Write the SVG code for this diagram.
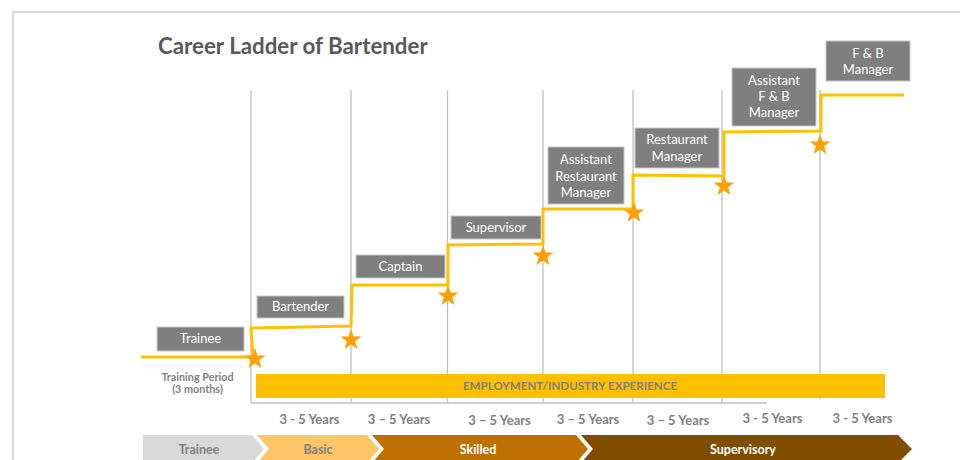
<svg xmlns="http://www.w3.org/2000/svg" width="960" height="460" viewBox="0 0 960 460">
  <style>
    .title { font-family: Lato, "Liberation Sans", sans-serif; font-weight: bold; font-size: 22.3px; fill: #595959; }
    .box { fill: #7f7f7f; stroke: #c8c8c8; stroke-width: 1; }
    .boxtxt { font-family: Lato, "Liberation Sans", sans-serif; font-size: 13px; fill: #ffffff; text-anchor: middle; }
    .grid { stroke: #bfbfbf; stroke-width: 1.3; fill: none; }
    .ladder { stroke: #ffc000; stroke-width: 3; fill: none; stroke-linejoin: miter; }
    .star { fill: #ffa000; }
    .gray { font-family: Lato, "Liberation Sans", sans-serif; font-weight: bold; fill: #7f7f7f; text-anchor: middle; }
    .years { font-size: 13px; }
    .small { font-size: 10.8px; }
    .band { font-family: Lato, "Liberation Sans", sans-serif; font-weight: bold; font-size: 12.5px; text-anchor: middle; }
  </style>
  <defs>
    <path id="star" class="star" d="M0,-11 L2.59,-3.56 L10.46,-3.4 L4.18,1.36 L6.47,8.9 L0,4.4 L-6.47,8.9 L-4.18,1.36 L-10.46,-3.4 L-2.59,-3.56 Z"/>
  </defs>
  <rect x="0" y="0" width="960" height="460" fill="#ffffff"/>
  <rect x="13" y="12" width="970" height="470" fill="#ffffff" stroke="#dadada" stroke-width="2.5"/>

  <text class="title" x="158" y="54">Career Ladder of Bartender</text>

  <g id="grid">
    <line class="grid" x1="251" y1="91" x2="251" y2="403"/>
    <line class="grid" x1="351" y1="90" x2="351" y2="403"/>
    <line class="grid" x1="447.5" y1="90" x2="447.5" y2="403"/>
    <line class="grid" x1="543" y1="90" x2="543" y2="403"/>
    <line class="grid" x1="633" y1="90" x2="633" y2="403"/>
    <line class="grid" x1="722" y1="90" x2="722" y2="403"/>
    <line class="grid" x1="820" y1="90" x2="820" y2="399"/>
    <line class="grid" x1="251" y1="403" x2="767" y2="403"/>
  </g>

  <g id="experience-bar">
    <rect x="256" y="374" width="629" height="24" fill="#ffc000"/>
    <text class="gray" x="570" y="390" font-size="11.6">EMPLOYMENT/INDUSTRY EXPERIENCE</text>
  </g>

  <g id="training-period">
    <text class="gray small" x="197.5" y="381">Training Period</text>
    <text class="gray small" x="197.5" y="393">(3 months)</text>
  </g>

  <g id="connectors">
    <path class="ladder" d="M141,357 L253,357 L251,328 L351,326 L352,285 L448,285 L448,245 L543,244 L543,209 L633,209 L633,175 L724,176 L724,132 L821,131 L821,95 L904,95"/>
  </g>

  <g id="stars">
    <use href="#star" x="255" y="359"/>
    <use href="#star" x="351" y="340"/>
    <use href="#star" x="448" y="296"/>
    <use href="#star" x="543" y="256"/>
    <use href="#star" x="634" y="213"/>
    <use href="#star" x="724" y="186"/>
    <use href="#star" x="820" y="145"/>
  </g>

  <g id="node-trainee">
    <rect class="box" x="157" y="327" width="87" height="24"/>
    <text class="boxtxt" x="200.5" y="343">Trainee</text>
  </g>
  <g id="node-bartender">
    <rect class="box" x="257" y="296" width="87" height="22"/>
    <text class="boxtxt" x="300.5" y="311">Bartender</text>
  </g>
  <g id="node-captain">
    <rect class="box" x="356" y="255" width="89" height="23"/>
    <text class="boxtxt" x="400.5" y="271">Captain</text>
  </g>
  <g id="node-supervisor">
    <rect class="box" x="451" y="216" width="90" height="23"/>
    <text class="boxtxt" x="496" y="232">Supervisor</text>
  </g>
  <g id="node-assistant-restaurant-manager">
    <rect class="box" x="548" y="147" width="76" height="57"/>
    <text class="boxtxt" x="586" y="164">Assistant</text>
    <text class="boxtxt" x="586" y="181">Restaurant</text>
    <text class="boxtxt" x="586" y="197">Manager</text>
  </g>
  <g id="node-restaurant-manager">
    <rect class="box" x="635" y="128" width="84" height="40"/>
    <text class="boxtxt" x="677" y="144">Restaurant</text>
    <text class="boxtxt" x="677" y="160.5">Manager</text>
  </g>
  <g id="node-assistant-fb-manager">
    <rect class="box" x="732" y="68" width="84" height="58"/>
    <text class="boxtxt" x="774" y="85">Assistant</text>
    <text class="boxtxt" x="774" y="101">F &amp; B</text>
    <text class="boxtxt" x="774" y="117">Manager</text>
  </g>
  <g id="node-fb-manager">
    <rect class="box" x="826" y="41" width="84" height="40"/>
    <text class="boxtxt" x="868" y="57.5">F &amp; B</text>
    <text class="boxtxt" x="868" y="74">Manager</text>
  </g>

  <g id="years">
    <text class="gray years" x="309.5" y="424">3 - 5 Years</text>
    <text class="gray years" x="399" y="424">3 – 5 Years</text>
    <text class="gray years" x="499.5" y="425">3 – 5 Years</text>
    <text class="gray years" x="588" y="424">3 – 5 Years</text>
    <text class="gray years" x="678" y="424.5">3 – 5 Years</text>
    <text class="gray years" x="772.5" y="423">3 - 5 Years</text>
    <text class="gray years" x="862.5" y="423">3 - 5 Years</text>
  </g>

  <g id="band-trainee">
    <polygon points="143,435 252,435 264,449 252,463 143,463" fill="#d9d9d9"/>
    <text class="band" x="199" y="453.5" fill="#7f7f7f">Trainee</text>
  </g>
  <g id="band-basic">
    <polygon points="257,435 367,435 379,449 367,463 257,463 269,449" fill="#ffc566"/>
    <text class="band" x="318" y="453.5" fill="#7f7f7f">Basic</text>
  </g>
  <g id="band-skilled">
    <polygon points="372,435 576,435 588,449 576,463 372,463 384,449" fill="#bf7100"/>
    <text class="band" x="478" y="453.5" fill="#ffffff">Skilled</text>
  </g>
  <g id="band-supervisory">
    <polygon points="581,435 898,435 912,449 898,463 581,463 593,449" fill="#7f4c00"/>
    <text class="band" x="743" y="453.5" fill="#ffffff">Supervisory</text>
  </g>
</svg>
